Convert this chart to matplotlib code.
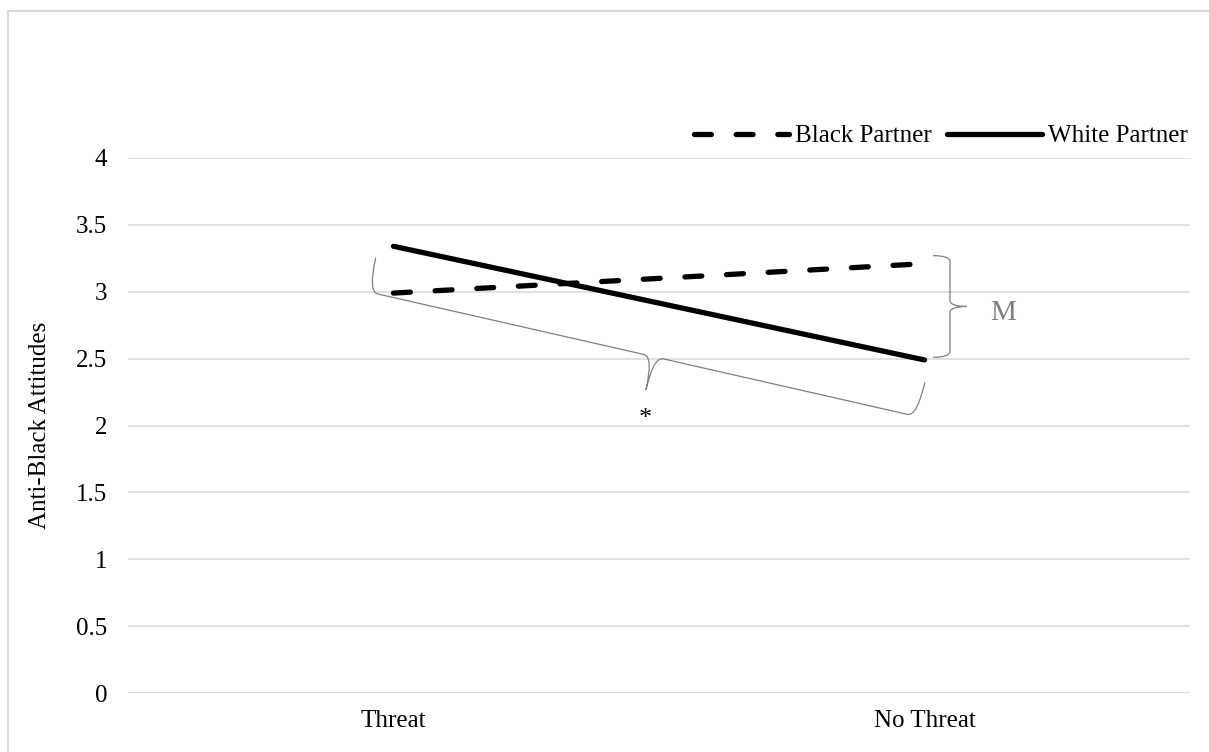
import matplotlib
matplotlib.use("Agg")
import matplotlib.pyplot as plt
import numpy as np
from matplotlib.path import Path
from matplotlib.patches import PathPatch
from matplotlib.lines import Line2D
from matplotlib.transforms import IdentityTransform

plt.rcParams['font.family'] = ['Liberation Serif', 'DejaVu Serif']

# data
conditions = ["Threat", "No Threat"]
black_partner = [2.99, 3.21]
white_partner = [3.34, 2.49]
y_ticks = [0, 0.5, 1, 1.5, 2, 2.5, 3, 3.5, 4]
y_labels = ["0", "0.5", "1", "1.5", "2", "2.5", "3", "3.5", "4"]

grid_col = "#d9d9d9"
brace_col = "#808080"

fig = plt.figure(figsize=(12.09, 7.52), dpi=100)
ax = fig.add_axes([128 / 1209, 1 - 693 / 752, 1062 / 1209, 535 / 752])

x = np.arange(len(conditions))
ax.plot(x, black_partner, color="black", lw=3.8, dashes=(3.2, 4.7),
        dash_capstyle="round", label="Black Partner")
ax.plot(x, white_partner, color="black", lw=3.8, solid_capstyle="round",
        label="White Partner")

ax.set_xlim(-0.5, 1.5)
ax.set_ylim(0, 4)
ax.set_yticks(y_ticks)
ax.set_yticklabels(y_labels)
ax.set_xticks(x)
ax.set_xticklabels(conditions)
ax.tick_params(axis="both", length=0, labelsize=18, colors="black")
ax.tick_params(axis="y", pad=15)
ax.tick_params(axis="x", pad=12)
ax.yaxis.grid(True, color=grid_col, lw=1.1)
ax.set_axisbelow(True)
for s in ax.spines.values():
    s.set_visible(False)
ax.axhline(0, color=grid_col, lw=1.1, zorder=0)

fig.text(40 / 1209, 1 - 425 / 752, "Anti-Black Attitudes", rotation=90,
         ha="center", va="center", fontsize=18)

leg = fig.legend(loc="center right", bbox_to_anchor=(1188 / 1209, 1 - 136 / 752),
                 ncol=2, frameon=False, fontsize=18, handlelength=3.8,
                 handletextpad=0.25, columnspacing=0.6, borderaxespad=0,
                 borderpad=0)

fig.canvas.draw()


def brace(p0, p1, hook, tip, frac=0.5, r=8):
    # curly brace between two data points, drawn in pixels
    a = ax.transData.transform(p0)
    b = ax.transData.transform(p1)
    d = b - a
    L = np.hypot(*d)
    u = d / L
    n = np.array([u[1], -u[0]])

    def P(s, t):
        return a + u * s + n * t

    m = L * frac
    verts = [P(0, -hook), P(0, 0), P(r, 0),
             P(m - r, 0), P(m, 0), P(m, tip),
             P(m, 0), P(m + r, 0),
             P(L - r, 0), P(L, 0), P(L, -hook)]
    codes = [Path.MOVETO, Path.CURVE3, Path.CURVE3,
             Path.LINETO, Path.CURVE3, Path.CURVE3,
             Path.CURVE3, Path.CURVE3,
             Path.LINETO, Path.CURVE3, Path.CURVE3]
    patch = PathPatch(Path(verts, codes), fill=False, edgecolor=brace_col,
                      lw=0.9, transform=IdentityTransform())
    fig.add_artist(patch)


brace((-0.048, 3.0), (0.986, 2.067), hook=35, tip=34, frac=0.52, r=10)
brace((1.048, 2.51), (1.048, 3.27), hook=17, tip=17, frac=0.5, r=6)

ax.text(1.148, 2.84, "M", color=brace_col, fontsize=21, ha="center", va="center")
ax.text(0.475, 2.05, "*", color="black", fontsize=19, ha="center", va="center")

# outer chart border
fig.add_artist(Line2D([8 / 1209, 8 / 1209], [0, 1 - 11 / 752], color=grid_col,
                      lw=1.5, transform=fig.transFigure))
fig.add_artist(Line2D([8 / 1209, 1], [1 - 11 / 752, 1 - 11 / 752], color=grid_col,
                      lw=1.5, transform=fig.transFigure))

fig.savefig("out.png", dpi=100)
